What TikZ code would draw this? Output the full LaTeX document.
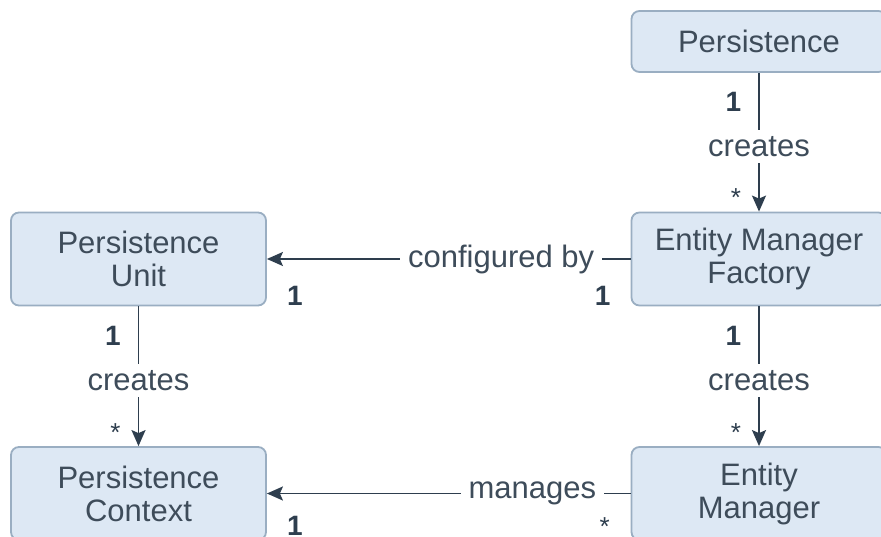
\documentclass[tikz,border=0pt]{standalone}
\usepackage{fontspec}
\setmainfont{Liberation Sans}
\usetikzlibrary{positioning,arrows.meta}
\definecolor{boxfill}{HTML}{DDE8F4}
\definecolor{boxline}{HTML}{9AAEC2}
\definecolor{ink}{HTML}{3E4C5A}
\definecolor{wire}{HTML}{2E3E4E}
\begin{document}
\begin{tikzpicture}[x=1pt, y=-1pt,
    box/.style={draw=boxline, fill=boxfill, line width=1.8pt, rounded corners=8pt,
      minimum width=255pt, minimum height=93pt, align=center, text=ink,
      font=\fontsize{31}{33}\selectfont},
    assoc/.style={draw=wire, line width=1.8pt, -{Stealth[length=16pt,width=14pt,inset=3pt]}},
    lbl/.style={fill=white, text=ink, inner xsep=8pt, inner ysep=6pt,
      font=\fontsize{31}{33}\selectfont},
    mult/.style={text=wire, inner sep=0pt, font=\fontsize{28}{30}\selectfont\bfseries},
    many/.style={text=wire, inner sep=0pt, font=\fontsize{26}{28}\selectfont}]
  \useasboundingbox (0,0) rectangle (881,537);
  \clip (0,0) rectangle (881,537);

  % classes
  \node[box, minimum height=61pt] (pers) at (759,41.5) {Persistence};
  \node[box] (emf) at (759,259) {Entity Manager\\Factory};
  \node[box] (pu) at (138.5,259) {Persistence\\Unit};
  \node[box] (pc) at (138.5,493.5) {Persistence\\Context};
  \node[box] (em) at (759,493.5) {Entity\\Manager};

  % creates
  \draw[assoc] (pers) -- node[lbl, pos=0.53] {creates}
    node[mult, pos=0.21, left=17pt] {1} node[many, pos=0.9, left=17pt] {*} (emf);
  \draw[assoc] (emf) -- node[lbl, pos=0.53] {creates}
    node[mult, pos=0.21, left=17pt] {1} node[many, pos=0.9, left=17pt] {*} (em);
  \draw[assoc] (pu) -- node[lbl, pos=0.53] {creates}
    node[mult, pos=0.21, left=17pt] {1} node[many, pos=0.9, left=17pt] {*} (pc);

  % configured by, manages
  \draw[assoc] (emf) -- node[lbl, pos=0.356] {configured by}
    node[mult, pos=0.077, below=26pt] {1} node[mult, pos=0.923, below=26pt] {1} (pu);
  \draw[assoc] (em) -- node[lbl, pos=0.27] {manages}
    node[many, pos=0.071, below=23pt] {*} node[mult, pos=0.923, below=22pt] {1} (pc);
\end{tikzpicture}
\end{document}
